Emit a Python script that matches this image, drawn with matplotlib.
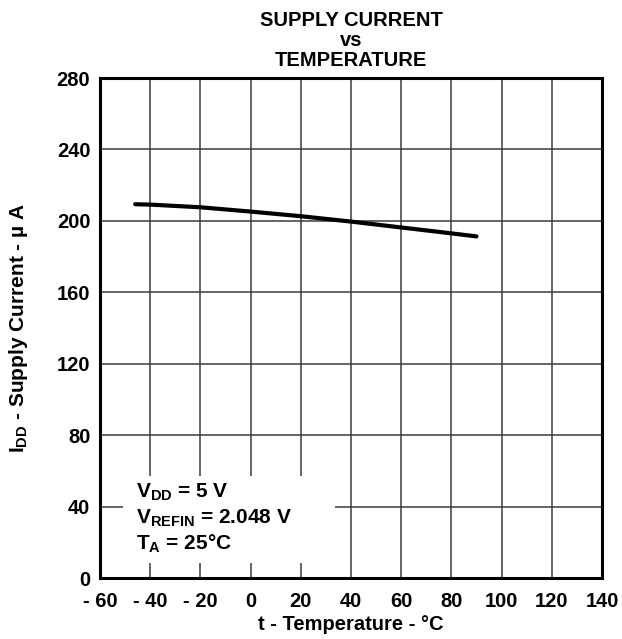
import matplotlib
matplotlib.use("Agg")
import matplotlib.pyplot as plt
from matplotlib.patches import Rectangle

# data
temp_c = [-46, -40, -20, 0, 20, 40, 60, 80, 90]
idd_ua = [209.3, 209.1, 207.6, 205.2, 202.6, 199.6, 196.3, 193.0, 191.3]

x_ticks = [-60, -40, -20, 0, 20, 40, 60, 80, 100, 120, 140]
x_labels = ["- 60", "- 40", "- 20", "0", "20", "40", "60", "80", "100", "120", "140"]
y_ticks = [0, 40, 80, 120, 160, 200, 240, 280]

conditions = [r"$\mathregular{V_{DD}}$ = 5 V",
              r"$\mathregular{V_{REFIN}}$ = 2.048 V",
              r"$\mathregular{T_A}$ = 25°C"]

plt.rcParams["font.family"] = ["Liberation Sans", "DejaVu Sans"]
plt.rcParams["font.weight"] = "bold"
plt.rcParams["mathtext.fontset"] = "custom"
plt.rcParams["mathtext.rm"] = "Liberation Sans:bold"
plt.rcParams["mathtext.bf"] = "Liberation Sans:bold"
plt.rcParams["mathtext.it"] = "Liberation Sans:bold"

FS = 14.5

fig = plt.figure(figsize=(6.22, 6.39), dpi=100)
ax = fig.add_axes([100 / 622, 1 - 578 / 639, 502 / 622, 500 / 639])

ax.plot(temp_c, idd_ua, color="black", linewidth=3.0, solid_capstyle="round",
        solid_joinstyle="round", zorder=3)

ax.set_xlim(-60, 140)
ax.set_ylim(0, 280)
ax.set_xticks(x_ticks)
ax.set_xticklabels(x_labels)
ax.set_yticks(y_ticks)
ax.tick_params(axis="x", length=0, labelsize=FS, pad=10)
ax.tick_params(axis="y", length=0, labelsize=FS, pad=7)
for lab in ax.get_xticklabels() + ax.get_yticklabels():
    lab.set_fontweight("bold")
ax.grid(True, color="#3a3a3a", linewidth=1.1)
for s in ax.spines.values():
    s.set_linewidth(2.2)

ax.set_xlabel("t - Temperature - °C", fontsize=FS, fontweight="bold", labelpad=3)
ax.set_ylabel(r"$\mathregular{I_{DD}}$ - Supply Current - µ A", fontsize=15,
              fontweight="bold", labelpad=19)
ax.set_title("SUPPLY CURRENT\nvs\nTEMPERATURE", fontsize=FS, fontweight="bold",
             linespacing=1.05, pad=9)

# white box behind the test conditions (hides the grid there)
ax.add_patch(Rectangle((-50.8, 8.4), 84.4, 48.7, facecolor="white",
                       edgecolor="none", zorder=2.5))
for i, line in enumerate(conditions):
    ax.text(-45.5, 44.8 - i * 14.5, line, fontsize=15, fontweight="bold",
            va="baseline", ha="left", zorder=4)

fig.savefig("out.png", dpi=100)
